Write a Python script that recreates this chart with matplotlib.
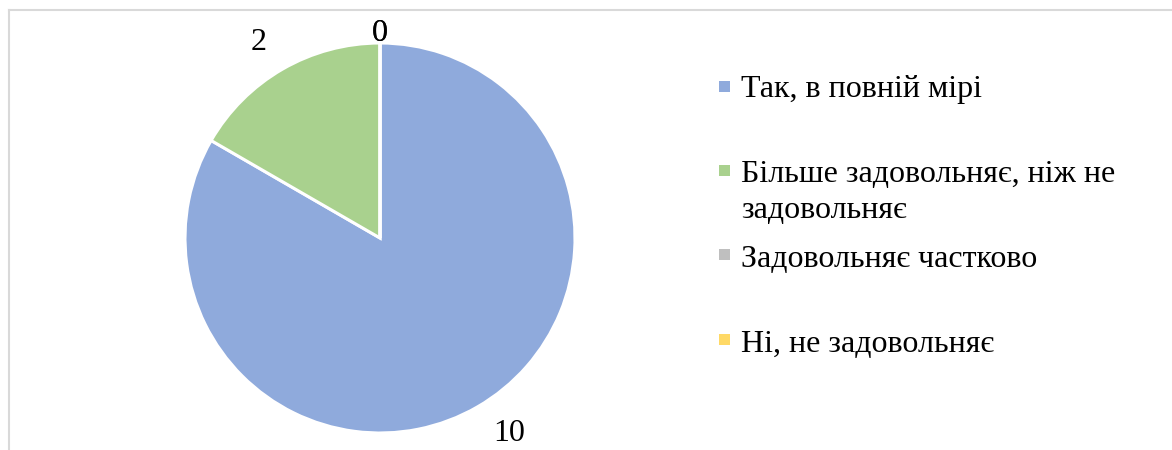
import matplotlib
matplotlib.use("Agg")
import matplotlib.pyplot as plt
import numpy as np
from matplotlib.lines import Line2D
from matplotlib.patches import Rectangle

plt.rcParams['font.family'] = 'Liberation Serif'

categories = ["Так, в повній мірі",
              "Більше задовольняє, ніж не\nзадовольняє",
              "Задовольняє частково",
              "Ні, не задовольняє"]
values = [10, 2, 0, 0]
colors = ["#8FAADC", "#A9D18E", "#BFBFBF", "#FFD966"]

W, H = 1172, 450
fig = plt.figure(figsize=(W / 100, H / 100), dpi=100)
ax = fig.add_axes([0, 0, 1, 1])

cx, cy, R = 380, H - 238, 195
wedges, _ = ax.pie(values, colors=colors, startangle=90, counterclock=False,
                   center=(cx, cy), radius=R,
                   wedgeprops=dict(edgecolor="white", linewidth=2.2))
ax.set_xlim(0, W)
ax.set_ylim(0, H)
ax.set_aspect('auto')
ax.axis('off')

FS = 23
# data labels (outside end)
for w, v in zip(wedges, values):
    mid = np.deg2rad((w.theta1 + w.theta2) / 2)
    c, s = np.cos(mid), np.sin(mid)
    if v > 0:
        k = 1.16
        ha = "left" if c > 0.05 else ("right" if c < -0.05 else "center")
    else:
        k = 1.05
        ha = "center"
    ax.text(cx + R * k * c, cy + R * k * s, str(v),
            ha=ha, va="center", fontsize=FS, color="black")

# chart frame (light grey, partially visible)
ax.add_line(Line2D([9, W], [H - 10, H - 10], color="#D9D9D9", lw=1.5))
ax.add_line(Line2D([9, 9], [0, H - 10], color="#D9D9D9", lw=1.5))

# legend, drawn manually to mimic the Office layout
marker_y = [86, 170, 254, 339]          # pixel centres of markers (from top)
baselines = [[97], [182, 218], [267], [352]]
for cat, col, my, bls in zip(categories, colors, marker_y, baselines):
    ax.add_patch(Rectangle((719, H - my - 5.5), 11, 11, facecolor=col, edgecolor="none"))
    for line, bl in zip(cat.split("\n"), bls):
        ax.text(741, H - bl, line, ha="left", va="baseline", fontsize=FS, color="black")

fig.savefig("out.png", dpi=100)
